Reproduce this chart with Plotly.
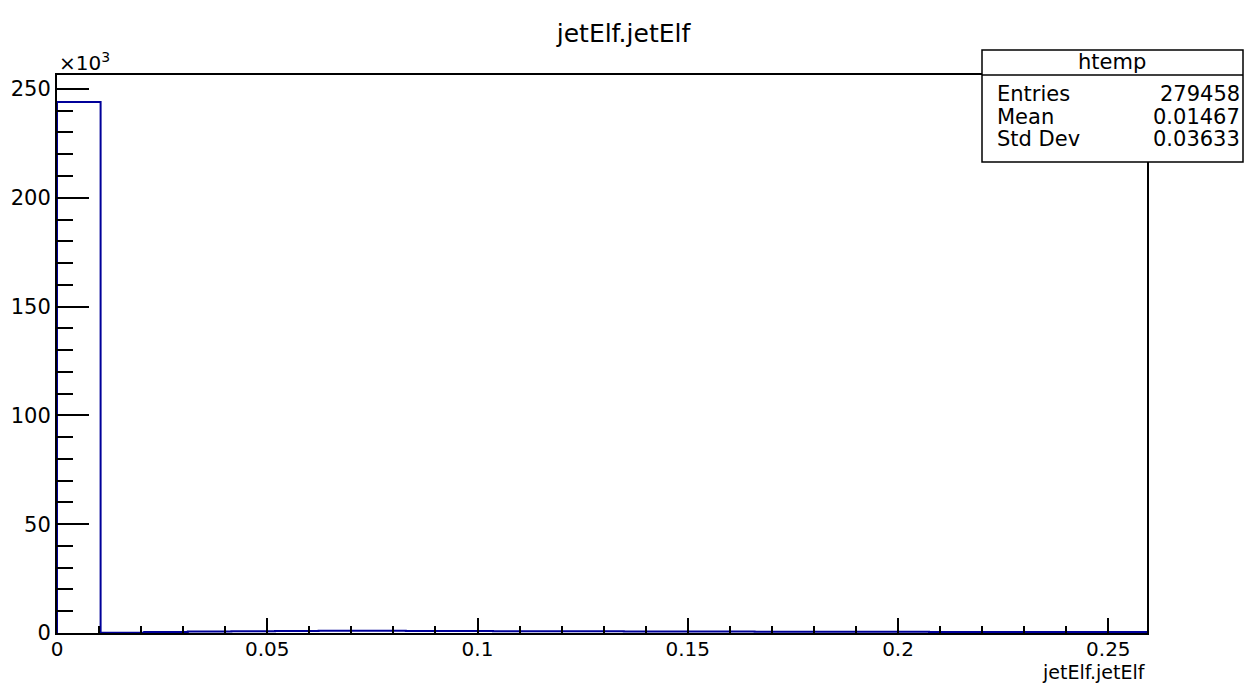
import numpy as np
import plotly.graph_objects as go

# ---- data ----
x_low = 0.0
x_high = 0.2592
n_bins = 25
counts = [244000, 150, 450, 650, 850, 950, 1000, 1000, 950, 900,
          850, 800, 750, 700, 650, 650, 600, 600, 550, 550,
          500, 500, 500, 450, 450]
x_tick_vals = [0, 0.05, 0.1, 0.15, 0.2, 0.25]
x_tick_text = ["0", "0.05", "0.1", "0.15", "0.2", "0.25"]
y_tick_vals = [0, 50000, 100000, 150000, 200000, 250000]
y_tick_text = ["0", "50", "100", "150", "200", "250"]
stats_names = ["Entries", "Mean", "Std Dev"]
stats_values = ["279458", "0.01467", "0.03633"]
hist_name = "htemp"
title = "jetElf.jetElf"
x_title = "jetElf.jetElf"

edges = np.linspace(x_low, x_high, n_bins + 1)
xs = list(edges)
ys = list(counts) + [counts[-1]]

FONT = "DejaVu Sans"
FS = 21
fig = go.Figure()
fig.add_trace(go.Scatter(
    x=[edges[0]] + xs + [edges[-1]],
    y=[0] + ys + [0],
    mode="lines", line=dict(color="#000099", width=2, shape="hv"),
    hoverinfo="skip", showlegend=False))

fig.update_layout(
    width=1247, height=684,
    margin=dict(l=57, r=100, t=75, b=51),
    paper_bgcolor="white", plot_bgcolor="white",
    font=dict(family=FONT, size=FS, color="black"),
    title=dict(text=title, x=0.5, xanchor="center", y=1 - 33 / 684,
               yanchor="middle", font=dict(size=25, family=FONT)),
    showlegend=False,
)
fig.update_xaxes(
    range=[x_low, x_high], showgrid=False, zeroline=False,
    showline=True, linecolor="black", linewidth=2, mirror=True,
    ticks="inside", ticklen=15, tickwidth=1.5, tickcolor="black",
    tickvals=x_tick_vals, ticktext=x_tick_text, ticklabelstandoff=-3,
    minor=dict(ticks="inside", ticklen=7, tickwidth=1.5, tickcolor="black",
               dtick=0.01, tick0=0, showgrid=False),
    tickfont=dict(size=20, family=FONT),
)
fig.update_yaxes(
    range=[0, 256400], showgrid=False, zeroline=False,
    showline=True, linecolor="black", linewidth=2, mirror=True,
    ticks="inside", ticklen=32, tickwidth=1.5, tickcolor="black",
    tickvals=y_tick_vals, ticktext=y_tick_text,
    minor=dict(ticks="inside", ticklen=16, tickwidth=1.5, tickcolor="black",
               dtick=10000, tick0=0, showgrid=False),
    tickfont=dict(size=FS, family=FONT),
)

# exponent label
fig.add_annotation(text="×10<sup>3</sup>", xref="paper", yref="paper",
                   x=0.0, y=(633 - 62) / 558, xanchor="left", yanchor="middle",
                   showarrow=False, font=dict(size=20, family=FONT))
# x axis title
fig.add_annotation(text=x_title, xref="paper", yref="paper",
                   x=1.0, y=(633 - 684) / 558, xanchor="right", yanchor="bottom",
                   showarrow=False, font=dict(size=19, family=FONT),
                   borderpad=0)

# stats box
bx0, bx1 = (982 - 57) / 1090, (1243 - 57) / 1090
by_top, by_sep, by_bot = (633 - 50) / 558, (633 - 75) / 558, (633 - 162) / 558
fig.add_shape(type="rect", xref="paper", yref="paper", x0=bx0, x1=bx1,
              y0=by_bot, y1=by_top, fillcolor="white",
              line=dict(color="black", width=1.5), layer="above")
fig.add_shape(type="line", xref="paper", yref="paper", x0=bx0, x1=bx1,
              y0=by_sep, y1=by_sep, line=dict(color="black", width=1.5),
              layer="above")
fig.add_annotation(text=hist_name, xref="paper", yref="paper",
                   x=(1112 - 57) / 1090, y=(633 - 62) / 558, xanchor="center",
                   yanchor="middle", showarrow=False, font=dict(size=FS, family=FONT))
row_y = [94, 117, 139]
for name, val, py in zip(stats_names, stats_values, row_y):
    yy = (633 - py) / 558
    fig.add_annotation(text=name, xref="paper", yref="paper",
                       x=(995 - 57) / 1090, y=yy, xanchor="left", yanchor="middle",
                       showarrow=False, font=dict(size=FS, family=FONT))
    fig.add_annotation(text=val, xref="paper", yref="paper",
                       x=(1242 - 57) / 1090, y=yy, xanchor="right", yanchor="middle",
                       showarrow=False, font=dict(size=FS, family=FONT))

fig.write_html("out.html")
